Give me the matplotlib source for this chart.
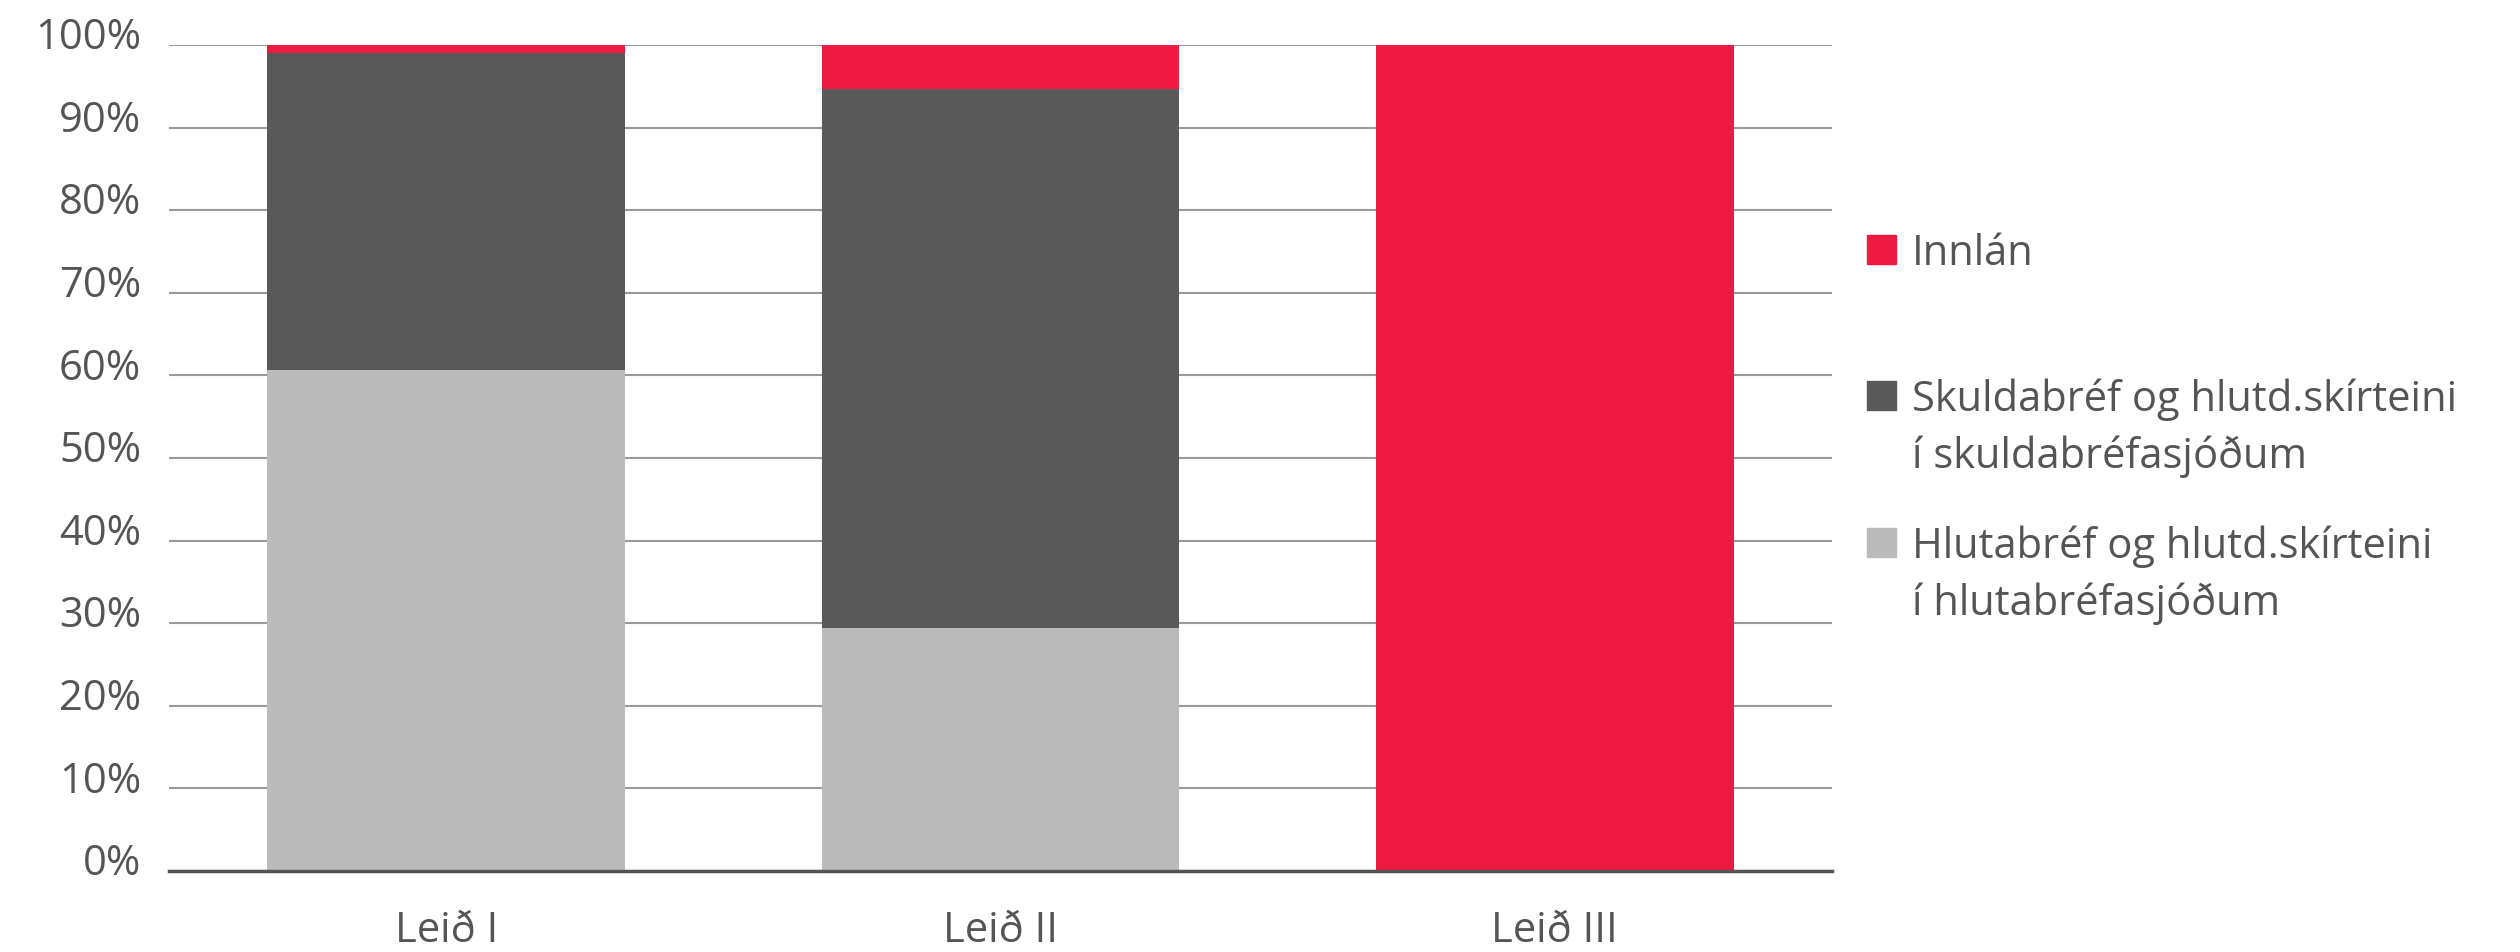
import matplotlib
matplotlib.use("Agg")
import matplotlib.pyplot as plt
from matplotlib.patches import Rectangle
import matplotlib.transforms as mtransforms
import numpy as np

categories = ["Leið I", "Leið II", "Leið III"]
hlutabref = [60.6, 29.4, 0.0]
skuldabref = [38.4, 65.3, 0.0]
innlan = [1.0, 5.3, 100.0]
series_labels = ["Innlán",
                 "Skuldabréf og hlutd.skírteini\ní skuldabréfasjóðum",
                 "Hlutabréf og hlutd.skírteini\ní hlutabréfasjóðum"]
yticks = [0, 10, 20, 30, 40, 50, 60, 70, 80, 90, 100]

RED = "#EE1A41"
DARK = "#585958"
LIGHT = "#BBBBBB"
TXT = "#555555"

plt.rcParams['font.family'] = ['Open Sans', 'DejaVu Sans']

fig = plt.figure(figsize=(25.2, 9.52), dpi=100)
ax = fig.add_axes([169/2520, 1-871/952, (1832-169)/2520, (871-45)/952])

x = np.arange(len(categories))
w = 0.645
b1 = np.array(hlutabref)
b2 = b1 + np.array(skuldabref)
ax.bar(x, hlutabref, width=w, color=LIGHT, zorder=2)
ax.bar(x, skuldabref, width=w, bottom=b1, color=DARK, zorder=2)
ax.bar(x, innlan, width=w, bottom=b2, color=RED, zorder=2)

ax.set_xlim(-0.5, 2.5)
ax.set_ylim(0, 100)
ax.set_yticks(yticks)
ax.set_yticklabels([f"{v}%" for v in yticks])
ax.set_xticks(x)
ax.set_xticklabels(categories)
ax.yaxis.grid(True, color="#9a9a9a", linewidth=1.5, zorder=0)
ax.set_axisbelow(True)
for s in ["top", "right", "left"]:
    ax.spines[s].set_visible(False)
ax.spines["bottom"].set_color("#555555")
ax.spines["bottom"].set_linewidth(2.5)
ax.spines["bottom"].set_zorder(3)
ax.tick_params(axis="y", length=0, pad=20, labelsize=30, labelcolor=TXT)
ax.tick_params(axis="x", length=0, pad=28, labelsize=30, labelcolor=TXT)
offset = mtransforms.ScaledTranslation(0, -3/72, fig.dpi_scale_trans)
for lab in ax.get_yticklabels():
    lab.set_va("baseline")
    lab.set_transform(lab.get_transform() + offset)

# legend drawn manually
colors = [RED, DARK, LIGHT]
ys = [249, 395, 542]
sq = 29
fs = 30
for c, lbl, yc in zip(colors, series_labels, ys):
    fig.patches.append(Rectangle((1867/2520, 1-(yc+sq/2)/952), sq/2520, sq/952,
                                 transform=fig.transFigure, color=c, figure=fig))
    for i, line in enumerate(lbl.split("\n")):
        fig.text(1912/2520, 1-(yc+57*i)/952, line, fontsize=fs, color=TXT,
                 va="center_baseline", ha="left")

fig.savefig("out.png", dpi=100)
